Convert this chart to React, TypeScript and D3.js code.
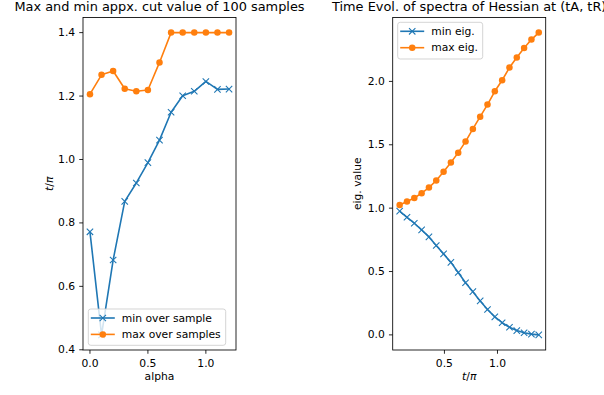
import React from "react";
import * as d3 from "d3";

const alpha = [0, 0.1, 0.2, 0.3, 0.4, 0.5, 0.6, 0.7, 0.8, 0.9, 1.0, 1.1, 1.2];
const minOverSample = [0.772, 0.447, 0.683, 0.868, 0.926, 0.99, 1.061, 1.149, 1.201, 1.215, 1.246, 1.221, 1.222];
const maxOverSamples = [1.206, 1.267, 1.279, 1.223, 1.215, 1.219, 1.306, 1.4, 1.4, 1.4, 1.4, 1.4, 1.4];

const tOverPi = [0.078, 0.147, 0.216, 0.285, 0.354, 0.423, 0.492, 0.561, 0.63, 0.699, 0.768, 0.837, 0.906, 0.975, 1.044, 1.113, 1.182, 1.251, 1.32, 1.389];
const minEig = [0.976, 0.928, 0.881, 0.828, 0.773, 0.705, 0.639, 0.572, 0.492, 0.411, 0.341, 0.268, 0.2, 0.142, 0.096, 0.06, 0.034, 0.017, 0.006, 0.0];
const maxEig = [1.025, 1.052, 1.08, 1.118, 1.162, 1.218, 1.287, 1.361, 1.438, 1.525, 1.625, 1.722, 1.817, 1.922, 2.009, 2.109, 2.188, 2.263, 2.33, 2.385];

const leftYTicks = [0.4, 0.6, 0.8, 1.0, 1.2, 1.4];
const leftXTicks = [0.0, 0.5, 1.0];
const rightYTicks = [0.0, 0.5, 1.0, 1.5, 2.0];
const rightXTicks = [0.5, 1.0];

const BLUE = "#1f77b4";
const ORANGE = "#ff7f0e";
const FONT = "DejaVu Sans";
const FS = 10.75;
const TITLE_FS = 12.9;
const TICK = 3.75;

function padded(vals: number[]): [number, number] {
  const [a, b] = d3.extent(vals) as [number, number];
  const m = (b - a) * 0.05;
  return [a - m, b + m];
}

function XMark({ x, y, color }: { x: number; y: number; color: string }) {
  const s = 3.2;
  return (
    <path d={`M${x - s},${y - s}L${x + s},${y + s}M${x - s},${y + s}L${x + s},${y - s}`} stroke={color} strokeWidth={1.07} fill="none" />
  );
}

function Panel(props: {
  left: number; right: number; top: number; bottom: number;
  xs: number[]; s1: number[]; s2: number[];
  xTicks: number[]; yTicks: number[];
  title: string; xLabel: React.ReactNode; yLabel: React.ReactNode; yLabelX: number;
  legend: { x: number; y: number; w: number; h: number; labels: [string, string] };
}) {
  const { left, right, top, bottom, xs, s1, s2, xTicks, yTicks } = props;
  const x = d3.scaleLinear().domain(padded(xs)).range([left, right]);
  const y = d3.scaleLinear().domain(padded([...s1, ...s2])).range([bottom, top]);
  const line = d3.line<[number, number]>().x((d) => x(d[0])).y((d) => y(d[1]));
  const p1 = xs.map((v, i) => [v, s1[i]] as [number, number]);
  const p2 = xs.map((v, i) => [v, s2[i]] as [number, number]);
  const cx = (left + right) / 2;
  const cy = (top + bottom) / 2;
  const lg = props.legend;
  return (
    <g fontFamily={FONT}>
      <text x={cx} y={11} textAnchor="middle" fontSize={TITLE_FS} fill="#000">{props.title}</text>
      <defs>
        <clipPath id={`clip${left}`}>
          <rect x={left} y={top} width={right - left} height={bottom - top} />
        </clipPath>
      </defs>
      <g clipPath={`url(#clip${left})`}>
        <path d={line(p1) || ""} stroke={BLUE} strokeWidth={1.6} fill="none" strokeLinejoin="round" />
        {p1.map((d, i) => <XMark key={i} x={x(d[0])} y={y(d[1])} color={BLUE} />)}
        <path d={line(p2) || ""} stroke={ORANGE} strokeWidth={1.6} fill="none" strokeLinejoin="round" />
        {p2.map((d, i) => <circle key={i} cx={x(d[0])} cy={y(d[1])} r={3.25} fill={ORANGE} />)}
      </g>
      <rect x={left} y={top} width={right - left} height={bottom - top} fill="none" stroke="#000" strokeWidth={0.85} />
      {xTicks.map((t) => (
        <g key={t}>
          <line x1={x(t)} x2={x(t)} y1={bottom} y2={bottom + TICK} stroke="#000" strokeWidth={0.85} />
          <text x={x(t)} y={366.5} textAnchor="middle" fontSize={FS} fill="#000">{t.toFixed(1)}</text>
        </g>
      ))}
      {yTicks.map((t) => (
        <g key={t}>
          <line x1={left - TICK} x2={left} y1={y(t)} y2={y(t)} stroke="#000" strokeWidth={0.85} />
          <text x={left - 2 * TICK - 0.3} y={y(t)} textAnchor="end" dominantBaseline="central" fontSize={FS} fill="#000">{t.toFixed(1)}</text>
        </g>
      ))}
      <text x={cx} y={379.5} textAnchor="middle" fontSize={FS} fill="#000">{props.xLabel}</text>
      <text transform={`translate(${props.yLabelX},${cy}) rotate(-90)`} textAnchor="middle" dominantBaseline="central" fontSize={FS} fill="#000">{props.yLabel}</text>
      <g>
        <rect x={lg.x} y={lg.y} width={lg.w} height={lg.h} rx={2.5} fill="#fff" fillOpacity={0.8} stroke="#cccccc" strokeWidth={0.85} />
        {[0, 1].map((i) => {
          const ry = lg.y + 9 + i * 16.4;
          const color = i === 0 ? BLUE : ORANGE;
          return (
            <g key={i}>
              <line x1={lg.x + 2.5} x2={lg.x + 26.5} y1={ry} y2={ry} stroke={color} strokeWidth={1.6} />
              {i === 0 ? <XMark x={lg.x + 14.5} y={ry} color={BLUE} /> : <circle cx={lg.x + 14.5} cy={ry} r={3.25} fill={ORANGE} />}
              <text x={lg.x + 33.5} y={ry} dominantBaseline="central" fontSize={FS} fill="#000">{lg.labels[i]}</text>
            </g>
          );
        })}
      </g>
    </g>
  );
}

const tPi = (
  <>
    <tspan fontStyle="italic">t</tspan>
    <tspan>/</tspan>
    <tspan fontStyle="italic">π</tspan>
  </>
);

export default function App() {
  return (
    <svg width={604} height={395} style={{ position: "absolute", left: 0, top: 0, background: "#fff" }}>
      <rect x={0} y={0} width={604} height={395} fill="#fff" />
      <Panel
        left={83} right={236} top={17.5} bottom={350}
        xs={alpha} s1={minOverSample} s2={maxOverSamples}
        xTicks={leftXTicks} yTicks={leftYTicks}
        title="Max and min appx. cut value of 100 samples"
        xLabel="alpha" yLabel={tPi} yLabelX={49}
        legend={{ x: 88.3, y: 309, w: 137.4, h: 36.3, labels: ["min over sample", "max over samples"] }}
      />
      <Panel
        left={392.7} right={545.7} top={17.5} bottom={350}
        xs={tOverPi} s1={minEig} s2={maxEig}
        xTicks={rightXTicks} yTicks={rightYTicks}
        title="Time Evol. of spectra of Hessian at (tA, tR)"
        xLabel={tPi} yLabel="eig. value" yLabelX={357.5}
        legend={{ x: 397.7, y: 22.3, w: 85, h: 36.7, labels: ["min eig.", "max eig."] }}
      />
    </svg>
  );
}
